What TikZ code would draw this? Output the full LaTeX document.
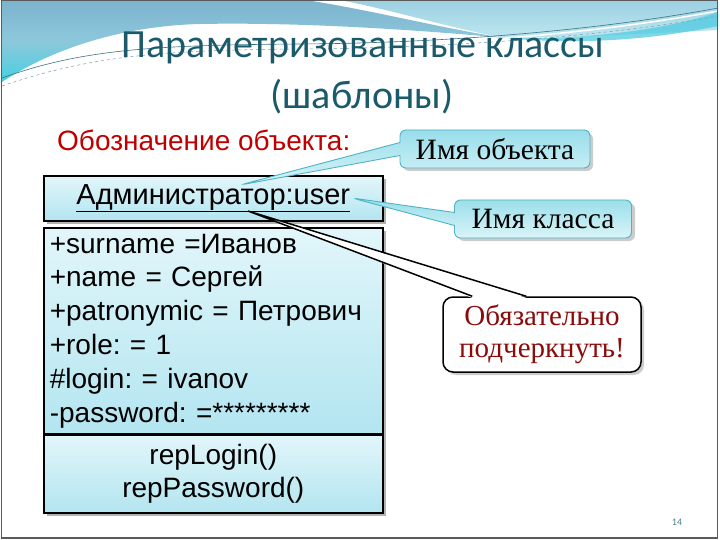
\documentclass[tikz,border=0pt]{standalone}
\usepackage{fontspec}
\setmainfont{Liberation Sans}
\newfontfamily\titlefont{Carlito}
\newfontfamily\serifru{Liberation Serif}
\usetikzlibrary{shapes.callouts,calc}
\frenchspacing
\definecolor{wavetop}{HTML}{7DB3CE}
\definecolor{wavebot}{HTML}{45D0E0}
\definecolor{wavemid}{HTML}{8CC8DC}
\definecolor{waverighttop}{HTML}{9DD0E2}
\definecolor{waverightbot}{HTML}{BDE7F0}
\definecolor{wavecyan}{HTML}{4FCBE0}
\definecolor{wavelines}{HTML}{3A7384}
\definecolor{titleblue}{HTML}{1B5A6B}
\definecolor{labelred}{HTML}{C00000}
\definecolor{mustred}{HTML}{8B0A0A}
\definecolor{boxtop}{HTML}{E2F6FA}
\definecolor{boxbot}{HTML}{B3E5F0}
\definecolor{calltop}{HTML}{98DEEA}
\definecolor{callbot}{HTML}{DAF4F8}
\definecolor{callborder}{HTML}{4FB3C6}
\definecolor{framegray}{HTML}{5A5A5A}
\definecolor{pagecol}{HTML}{4F8595}
\tikzset{
  titletext/.style={text=titleblue, font=\titlefont\fontsize{40}{44}\selectfont, inner sep=0pt},
  redlabel/.style={text=labelred, font=\fontsize{28}{32}\selectfont, inner sep=0pt},
  umlbox/.style={draw=black, line width=1.6pt, top color=boxtop, bottom color=boxbot,
    anchor=north west, inner sep=0pt, font=\fontsize{28}{33.8}\selectfont},
  boxshadow/.style={fill=black, opacity=0.3},
  callshadow/.style={fill=black, opacity=0.2},
  cyancall/.style={rectangle callout, rounded corners=6pt, draw=callborder, line width=0.9pt,
    top color=calltop, bottom color=callbot, font=\serifru\fontsize{29.5}{32}\selectfont,
    minimum height=38pt, inner sep=0pt, callout pointer width=13pt},
  mustcall/.style={draw=black, line width=1.5pt, fill=white, rounded corners=10pt,
    text=mustred, font=\serifru\fontsize{29}{32}\selectfont, align=center,
    minimum width=198pt, minimum height=75pt, inner sep=0pt},
  pointerline/.style={draw=black, line width=1.5pt, line join=miter}
}
\begin{document}
\begin{tikzpicture}[x=1pt,y=-1pt]
\useasboundingbox (0,0) rectangle (720,540);
\fill[white] (0,0) rectangle (720,540);
% background waves
\shade[top color=waverighttop, bottom color=waverightbot]
  (345,1) -- (718,1) -- (718,30) .. controls (640,34) and (560,38) .. (505,38)
  .. controls (450,28) and (400,12) .. (345,1) -- cycle;
\shade[top color=wavetop, bottom color=wavebot, middle color=wavemid]
  (2,1) -- (312,1) .. controls (380,12) and (440,28) .. (505,38)
  .. controls (420,30) and (300,22) .. (200,24)
  .. controls (120,26) and (50,50) .. (2,82) -- cycle;
\fill[wavecyan, opacity=0.75] (505,38) .. controls (600,40) and (680,26) .. (718,12)
  -- (718,26) .. controls (650,40) and (580,45) .. (505,38) -- cycle;
\draw[draw=white, line width=1.5pt] (2,83) .. controls (80,54) and (150,48) .. (300,47) .. controls (450,46) and (600,33) .. (718,11);
\draw[draw=wavelines, line width=0.6pt] (2,78) .. controls (80,50) and (150,45) .. (300,44) .. controls (450,43) and (600,30) .. (718,8);
\draw[draw=wavelines!70, line width=0.5pt, dashed] (2,86) .. controls (90,56) and (160,50) .. (300,49) .. controls (450,48) and (610,36) .. (718,16);
% frame
\draw[framegray, line width=1.2pt] (1.5,0.8) rectangle (717.5,538);
% title
\node[titletext] (t1) at (363,48) {Параметризованные классы};
\node[titletext] (t2) at (362,97) {(шаблоны)};
\node[redlabel, anchor=west] (lbl) at (57,140) {Обозначение объекта:};
% UML object shadows
\fill[boxshadow] (47,179) rectangle (386,224);
\fill[boxshadow] (47,231) rectangle (386,516);
% UML object
\node[umlbox, minimum width=339pt, minimum height=45pt] (head) at (43,175)
  {\fontsize{29}{32}\selectfont\underline{Администратор:user}};
\node[umlbox, minimum width=339pt, minimum height=206pt, text width=327pt, align=left, inner xsep=6pt] (attrs) at (43,227)
  {+surname =Иванов\\+name = Сергей\\+patronymic = Петрович\\+role: = 1\\\#login: = ivanov\\-password: =*********};
\node[umlbox, minimum width=339pt, minimum height=78pt, align=center] (meth) at (43,434)
  {repLogin()\\repPassword()};
% callout shadows
\fill[callshadow, rounded corners=6pt] (403,133) rectangle (593,171);
\fill[callshadow, rounded corners=6pt] (458,203) rectangle (635,241);
\fill[callshadow, rounded corners=10pt] (446,300) rectangle (644,375);
% callouts
\coordinate (objtip) at (240,185);
\coordinate (clstip) at (352,198);
\coordinate (musttip) at (248,211);
\node[cyancall, callout absolute pointer={(objtip)}, minimum width=190pt] (objname) at (495,149) {Имя объекта};
\node[cyancall, callout absolute pointer={(clstip)}, minimum width=177pt] (clsname) at (543,219) {Имя класса};
\node[mustcall] (must) at (542,334.5) {Обязательно\\подчеркнуть!};
\fill[white] ($(must.north west)+(30,1.6)$) -- (musttip) -- ($(must.north west)+(84,1.6)$) -- cycle;
\draw[pointerline] ($(must.north west)+(30,0)$) -- (musttip) -- ($(must.north west)+(84,0)$);
% page number
\node[text=pagecol, font=\titlefont\fontsize{10}{12}\selectfont, inner sep=0pt] (pg) at (677,522) {14};
\end{tikzpicture}
\end{document}
